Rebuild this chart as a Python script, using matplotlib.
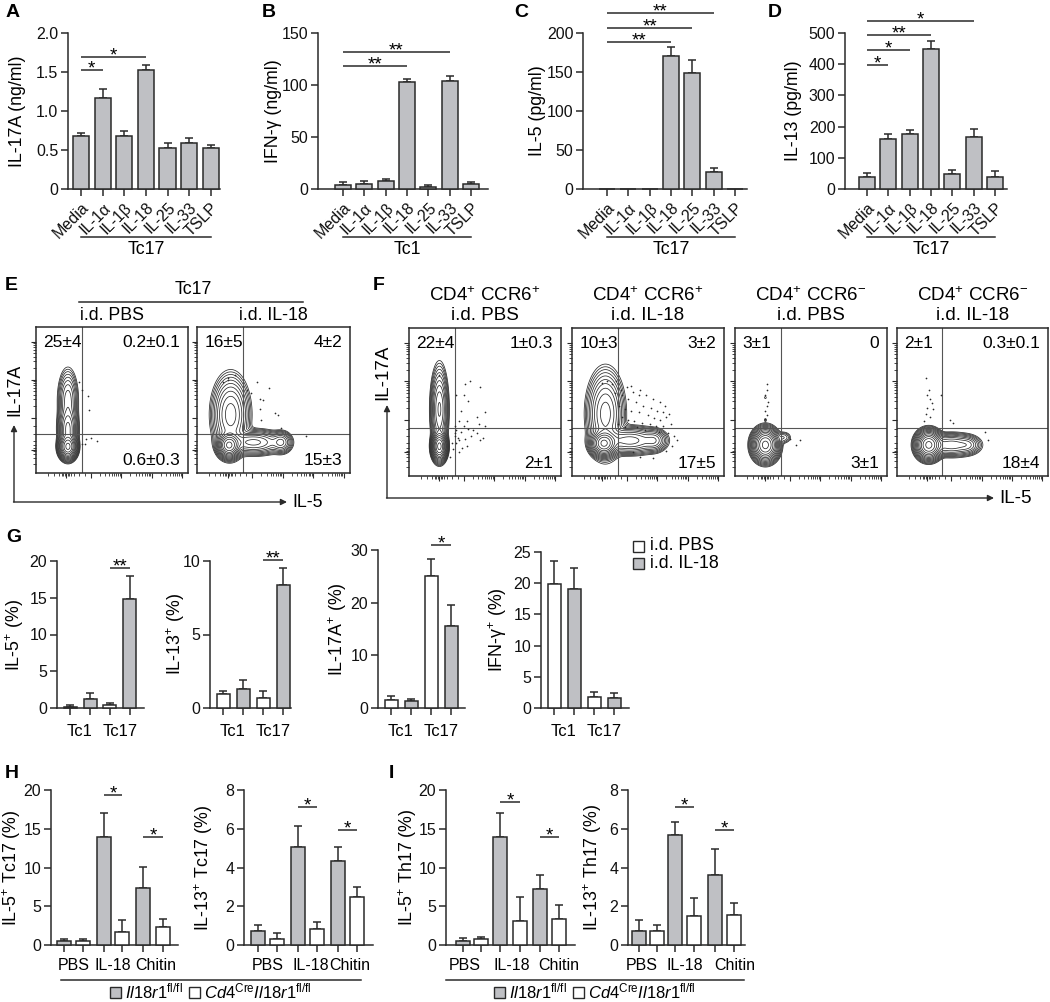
import numpy as np
import matplotlib
matplotlib.use('Agg')
import matplotlib.pyplot as plt
from matplotlib.transforms import blended_transform_factory
from matplotlib.patches import Rectangle
from matplotlib import font_manager

_names = {f.name for f in font_manager.fontManager.ttflist}
NARROW = 'Liberation Sans Narrow' if 'Liberation Sans Narrow' in _names else 'Liberation Sans'

plt.rcParams['font.family'] = ['Liberation Sans', 'DejaVu Sans']
plt.rcParams['mathtext.fontset'] = 'custom'
plt.rcParams['mathtext.rm'] = 'Liberation Sans'
plt.rcParams['mathtext.it'] = 'Liberation Sans:italic'
plt.rcParams['mathtext.bf'] = 'Liberation Sans:bold'
plt.rcParams['mathtext.default'] = 'regular'

# ======================= DATA =======================
cytokines = ['Media', 'IL-1α', 'IL-1β', 'IL-18', 'IL-25', 'IL-33', 'TSLP']
A_il17a = [0.68, 1.17, 0.68, 1.52, 0.52, 0.59, 0.53]
A_il17a_err = [0.04, 0.11, 0.07, 0.07, 0.07, 0.06, 0.04]
A_sig = [(0, 1, 1.52, '*'), (0, 3, 1.69, '*')]
B_ifng = [4.0, 5.0, 7.5, 103.0, 1.5, 104.0, 5.0]
B_ifng_err = [3.0, 2.5, 2.0, 3.0, 2.0, 5.0, 2.0]
B_sig = [(0, 3, 118, '**'), (0, 5, 132, '**')]
C_il5 = [0, 0, 0, 170, 149, 22, 0]
C_il5_err = [0, 0, 0, 12, 17, 5, 0]
C_sig = [(0, 3, 188, '**'), (0, 4, 206, '**'), (0, 5, 226, '**')]
D_il13 = [40, 160, 176, 448, 48, 167, 40]
D_il13_err = [12, 17, 13, 25, 14, 24, 17]
D_sig = [(0, 1, 396, '*'), (0, 2, 444, '*'), (0, 3, 492, '**'), (0, 5, 540, '*')]

E_titles = ['i.d. PBS', 'i.d. IL-18']
E_quads = [('25±4', '0.2±0.1', '0.6±0.3'), ('16±5', '4±2', '15±3')]
F_titles = [('CD4$^{+}$ CCR6$^{+}$', 'i.d. PBS'), ('CD4$^{+}$ CCR6$^{+}$', 'i.d. IL-18'),
            ('CD4$^{+}$ CCR6$^{-}$', 'i.d. PBS'), ('CD4$^{+}$ CCR6$^{-}$', 'i.d. IL-18')]
F_quads = [('22±4', '1±0.3', '2±1'), ('10±3', '3±2', '17±5'),
           ('3±1', '0', '3±1'), ('2±1', '0.3±0.1', '18±4')]

# population blobs (x, y, sx, sy, weight) in plot-fraction units
E_pbs_blobs = [(0.21, 0.18, 0.024, 0.035, 1.0), (0.21, 0.30, 0.026, 0.07, 0.30),
               (0.21, 0.50, 0.028, 0.09, 0.10)]
E_il18_blobs = [(0.21, 0.19, 0.030, 0.035, 1.0), (0.22, 0.40, 0.050, 0.11, 0.22),
                (0.37, 0.21, 0.085, 0.035, 0.20), (0.55, 0.21, 0.030, 0.032, 0.12)]
F1_blobs = [(0.20, 0.20, 0.020, 0.040, 1.0), (0.20, 0.45, 0.024, 0.12, 0.18)]
F2_blobs = [(0.21, 0.22, 0.035, 0.035, 1.0), (0.22, 0.42, 0.050, 0.12, 0.22),
            (0.38, 0.24, 0.090, 0.038, 0.22), (0.54, 0.24, 0.035, 0.033, 0.09)]
F3_blobs = [(0.20, 0.21, 0.035, 0.045, 1.0), (0.32, 0.26, 0.025, 0.020, 0.02),
            (0.20, 0.38, 0.006, 0.008, 0.006), (0.20, 0.53, 0.006, 0.008, 0.006)]
F4_blobs = [(0.21, 0.21, 0.035, 0.040, 1.0), (0.36, 0.21, 0.075, 0.033, 0.15),
            (0.47, 0.21, 0.035, 0.028, 0.05)]

E_pbs_dots = [(0.30, 0.57), (0.34, 0.53), (0.35, 0.43), (0.33, 0.23), (0.36, 0.24),
              (0.40, 0.22), (0.32, 0.20), (0.30, 0.20), (0.28, 0.62)]
E_il18_dots = [(0.17, 0.62), (0.20, 0.65), (0.25, 0.67), (0.20, 0.64), (0.39, 0.62),
               (0.33, 0.57), (0.35, 0.55), (0.41, 0.51), (0.43, 0.50), (0.47, 0.58),
               (0.41, 0.44), (0.53, 0.40), (0.51, 0.41), (0.55, 0.31), (0.42, 0.36),
               (0.71, 0.25)]
F1_dots = [(0.37, 0.62), (0.40, 0.64), (0.47, 0.60), (0.36, 0.55), (0.39, 0.51), (0.31, 0.55),
           (0.34, 0.44), (0.33, 0.37), (0.38, 0.37), (0.45, 0.40), (0.50, 0.43), (0.50, 0.34),
           (0.30, 0.29), (0.34, 0.30), (0.37, 0.25), (0.41, 0.27), (0.45, 0.29), (0.47, 0.24),
           (0.49, 0.26), (0.31, 0.22), (0.35, 0.19), (0.38, 0.20), (0.29, 0.18), (0.33, 0.24),
           (0.42, 0.31), (0.39, 0.32), (0.36, 0.34), (0.30, 0.34), (0.46, 0.35), (0.30, 0.27),
           (0.32, 0.26), (0.28, 0.22), (0.31, 0.31), (0.27, 0.13), (0.33, 0.16), (0.20, 0.68)]
F2_dots = [(0.20, 0.63), (0.23, 0.64), (0.26, 0.62), (0.29, 0.64), (0.36, 0.60), (0.40, 0.57),
           (0.45, 0.58), (0.49, 0.55), (0.33, 0.55), (0.37, 0.52), (0.42, 0.50), (0.47, 0.47),
           (0.52, 0.46), (0.56, 0.44), (0.60, 0.43), (0.64, 0.42), (0.31, 0.47), (0.35, 0.45),
           (0.39, 0.44), (0.44, 0.43), (0.50, 0.41), (0.54, 0.39), (0.58, 0.38), (0.62, 0.40),
           (0.33, 0.40), (0.37, 0.38), (0.41, 0.37), (0.46, 0.36), (0.51, 0.35), (0.55, 0.34),
           (0.60, 0.34), (0.65, 0.35), (0.30, 0.35), (0.35, 0.33), (0.43, 0.33), (0.48, 0.31),
           (0.57, 0.30), (0.63, 0.29), (0.67, 0.27), (0.69, 0.24), (0.66, 0.20), (0.62, 0.17),
           (0.45, 0.13), (0.40, 0.16), (0.53, 0.12), (0.28, 0.56), (0.32, 0.58), (0.39, 0.61),
           (0.44, 0.55), (0.53, 0.52), (0.58, 0.50), (0.61, 0.47)]
F3_dots = [(0.21, 0.62), (0.21, 0.58), (0.20, 0.55), (0.22, 0.50), (0.21, 0.47), (0.20, 0.44),
           (0.21, 0.41), (0.36, 0.25), (0.43, 0.24), (0.40, 0.21)]
F4_dots = [(0.19, 0.66), (0.21, 0.58), (0.20, 0.55), (0.22, 0.52), (0.23, 0.49), (0.20, 0.46),
           (0.24, 0.45), (0.19, 0.42), (0.22, 0.40), (0.29, 0.55), (0.35, 0.38), (0.37, 0.36),
           (0.58, 0.30), (0.60, 0.24), (0.18, 0.37)]

G_groups = ['Tc1', 'Tc17']
G_treat = ['i.d. PBS', 'i.d. IL-18']
G_il5 = [0.18, 1.20, 0.46, 14.8]
G_il5_err = [0.22, 0.86, 0.18, 3.1]
G_il13 = [0.92, 1.31, 0.67, 8.37]
G_il13_err = [0.27, 0.62, 0.48, 1.15]
G_il17a = [1.45, 1.30, 25.1, 15.6]
G_il17a_err = [0.82, 0.32, 3.2, 4.0]
G_ifng = [19.9, 19.1, 1.83, 1.61]
G_ifng_err = [3.6, 3.3, 0.75, 0.76]
G_il5_sig = [(2, 3, 19.0, '**')]
G_il13_sig = [(2, 3, 10.1, '**')]
G_il17a_sig = [(2, 3, 31.0, '*')]

HI_treat = ['PBS', 'IL-18', 'Chitin']
H_il5 = [0.52, 0.48, 13.9, 1.70, 7.30, 2.30]
H_il5_err = [0.31, 0.35, 3.1, 1.55, 2.75, 1.10]
H_il13 = [0.72, 0.33, 5.05, 0.85, 4.31, 2.48]
H_il13_err = [0.30, 0.30, 1.10, 0.36, 0.77, 0.50]
I_il5 = [0.50, 0.74, 13.9, 3.05, 7.25, 3.35]
I_il5_err = [0.45, 0.30, 3.1, 3.15, 1.75, 1.75]
I_il13 = [0.72, 0.72, 5.70, 1.52, 3.62, 1.57]
I_il13_err = [0.55, 0.31, 0.65, 0.91, 1.32, 0.60]
H_il5_sig = [(2, 3, 19.4, '*'), (4, 5, 13.9, '*')]
H_il13_sig = [(2, 3, 7.1, '*'), (4, 5, 5.95, '*')]
I_il5_sig = [(2, 3, 18.5, '*'), (4, 5, 13.9, '*')]
I_il13_sig = [(2, 3, 7.1, '*'), (4, 5, 5.95, '*')]
genotypes = [r'$\mathit{Il18r1}^{\mathrm{fl/fl}}$',
             r'$\mathit{Cd4}^{\mathrm{Cre}}\mathit{Il18r1}^{\mathrm{fl/fl}}$']

# ======================= STYLE / LAYOUT =======================
W, H = 1050, 1002
INK = '#2a2a2a'
GREY = '#bfc0c4'
FS_TICK = 11.5
FS_LAB = 12.8
FS_CAT = 12
fig = plt.figure(figsize=(W / 100, H / 100), dpi=100, facecolor='white')
ov = fig.add_axes([0, 0, 1, 1], zorder=10)
ov.set_xlim(0, W)
ov.set_ylim(H, 0)
ov.axis('off')


def px_axes(x0, y0, x1, y1):
    a = fig.add_axes([x0 / W, 1 - y1 / H, (x1 - x0) / W, (y1 - y0) / H])
    a.patch.set_alpha(0)
    return a


def bt(ax):
    return blended_transform_factory(ax.transData, ov.transData)


def bar_panel(x0, ytop, x1, ybot, xlim, ymax, yticks, ylabs, pos, means, errs, colors,
              width, sigs, ylabel, ylab_x):
    ax = px_axes(x0, ytop, x1, ybot)
    ax.set_xlim(*xlim)
    ax.set_ylim(0, ymax)
    for s in ['top', 'right']:
        ax.spines[s].set_visible(False)
    for s in ['left', 'bottom']:
        ax.spines[s].set_linewidth(1.1)
        ax.spines[s].set_color(INK)
    ax.tick_params(direction='out', length=5, width=1.1, color=INK, labelsize=FS_TICK,
                   pad=2, labelcolor='#111')
    ax.set_yticks(yticks)
    ax.set_yticklabels(ylabs)
    ax.set_xticks(pos)
    ax.set_xticklabels([])
    bars = ax.bar(pos, means, width=width, color=colors, edgecolor=INK, linewidth=1.1,
                  zorder=3)
    for b in bars:
        b.set_clip_on(False)
    keep = [k for k in range(len(pos)) if errs[k] > 0]
    ax.errorbar([pos[k] for k in keep], [means[k] for k in keep],
                yerr=[[0] * len(keep), [errs[k] for k in keep]], fmt='none', ecolor=INK,
                elinewidth=1.1, capsize=3.2, capthick=1.1, zorder=2, clip_on=False)
    for i, j, y, lab in sigs:
        ax.plot([pos[i], pos[j]], [y, y], color=INK, lw=1.1, clip_on=False,
                solid_capstyle='butt')
        ax.annotate(lab, ((pos[i] + pos[j]) / 2, y), xytext=(0, -2.5),
                    textcoords='offset points', ha='center', va='baseline', fontsize=13.5,
                    annotation_clip=False)
    yc = (ytop + ybot) / 2
    ov.text(ylab_x, yc, ylabel, rotation=90, ha='center', va='center', fontsize=FS_LAB)
    return ax


# ---------------- Row 1: A-D ----------------
pos7 = list(range(7))
row1 = [
    (68, 220, (-0.6, 6.42), 2.0, [0, 0.5, 1.0, 1.5, 2.0], ['0', '0.5', '1.0', '1.5', '2.0'],
     A_il17a, A_il17a_err, A_sig, 'IL-17A (ng/ml)', 18, 'Tc17', 'A', 6),
    (318, 488, (-1.17, 6.8), 150, [0, 50, 100, 150], ['0', '50', '100', '150'],
     B_ifng, B_ifng_err, B_sig, 'IFN-γ (ng/ml)', 274, 'Tc1', 'B', 262),
    (583, 747, (-1.13, 6.56), 200, [0, 50, 100, 150, 200], ['0', '50', '100', '150', '200'],
     C_il5, C_il5_err, C_sig, 'IL-5 (pg/ml)', 537, 'Tc17', 'C', 514),
    (845, 1007, (-1.03, 6.56), 500, [0, 100, 200, 300, 400, 500],
     ['0', '100', '200', '300', '400', '500'],
     D_il13, D_il13_err, D_sig, 'IL-13 (pg/ml)', 793, 'Tc17', 'D', 768),
]
for (x0, x1, xl, ymax, yt, yl, m, e, sg, ylab, ylx, grp, letter, lx) in row1:
    ax = bar_panel(x0, 33, x1, 189, xl, ymax, yt, yl, pos7, m, e, [GREY] * 7, 0.75, sg,
                   ylab, ylx)
    ax.set_xticklabels(cytokines, rotation=45, ha='right', va='top',
                       rotation_mode='anchor', fontsize=FS_TICK)
    ax.tick_params(axis='x', pad=3)
    tr = bt(ax)
    ov.plot([0, 6], [237, 237], color=INK, lw=1.1, transform=tr)
    ov.text(3, 249, grp, transform=tr, ha='center', va='center', fontsize=FS_LAB)
    ov.text(lx, 12, letter, ha='left', va='center', fontsize=14, fontweight='bold')

# ---------------- Row 2: E, F flow plots ----------------
gx = np.linspace(0, 1, 360)
GX, GY = np.meshgrid(gx, gx)

FX_MAJ = [0.20, 0.36, 0.56, 0.76, 0.96]
FY_MAJ = [0.16, 0.38, 0.64, 0.90]
FX_MIN = [0.08, 0.12, 0.15, 0.17, 0.18, 0.19, 0.21, 0.22, 0.23, 0.25, 0.28, 0.32] + \
    [d + 0.2 * np.log10(k) for d in (0.36, 0.56, 0.76) for k in range(2, 10)]
FY_MIN = [0.06, 0.10, 0.13, 0.15, 0.17, 0.19, 0.22, 0.27, 0.32] + \
    [d + 0.26 * np.log10(k) for d in (0.38, 0.64) for k in range(2, 10)]


def flow_panel(x0, y0, x1, y1, blobs, dots, gate_x, gate_y, quads, fs, family):
    ax = px_axes(x0, y0, x1, y1)
    ax.set_xlim(0, 1)
    ax.set_ylim(0, 1)
    for s in ax.spines.values():
        s.set_linewidth(1.1)
        s.set_color(INK)
    Z = np.zeros_like(GX)
    for cx, cy, sx, sy, w in blobs:
        Z += w * np.exp(-0.5 * (((GX - cx) / sx) ** 2 + ((GY - cy) / sy) ** 2))
    lv = Z.max() * np.geomspace(0.004, 0.85, 14)
    ax.contour(GX, GY, Z, levels=lv, colors=INK, linewidths=0.55)
    d = np.array(dots)
    ax.scatter(d[:, 0], d[:, 1], s=1.5, c=INK, linewidths=0, zorder=3)
    ax.axvline(gate_x, color='#555555', lw=0.8)
    ax.axhline(gate_y, color='#555555', lw=0.8)
    ax.set_xticks(FX_MAJ)
    ax.set_xticks(FX_MIN, minor=True)
    ax.set_yticks(FY_MAJ)
    ax.set_yticks(FY_MIN, minor=True)
    ax.set_xticklabels([])
    ax.set_yticklabels([])
    ax.tick_params(which='major', direction='out', length=3.5, width=0.8, color=INK)
    ax.tick_params(which='minor', direction='out', length=2, width=0.6, color=INK)
    kw = dict(transform=ax.transAxes, fontsize=fs, family=family, va='center')
    ax.text(0.05, 0.895, quads[0], ha='left', **kw)
    ax.text(0.95, 0.895, quads[1], ha='right', **kw)
    ax.text(0.95, 0.085, quads[2], ha='right', **kw)
    return ax


arrow_kw = dict(arrowstyle='-|>', lw=1.0, color=INK, mutation_scale=9, shrinkA=0, shrinkB=0)

# E
E_boxes = [(36, 188), (197, 350)]
E_blobs = [E_pbs_blobs, E_il18_blobs]
E_dots = [E_pbs_dots, E_il18_dots]
for k, (a, b) in enumerate(E_boxes):
    flow_panel(a, 327, b, 473, E_blobs[k], E_dots[k], 0.30, 0.27, E_quads[k], 12.5,
               'Liberation Sans')
    ov.text((a + b) / 2, 315, E_titles[k], ha='center', va='center', fontsize=FS_LAB)
ov.plot([79, 303], [302, 302], color=INK, lw=1.1)
ov.text(193, 290, 'Tc17', ha='center', va='center', fontsize=FS_LAB)
ov.text(5, 286, 'E', ha='left', va='center', fontsize=14, fontweight='bold')
ov.annotate('', xy=(14, 425), xytext=(14, 502), arrowprops=arrow_kw)
ov.annotate('', xy=(287, 502), xytext=(13.5, 502), arrowprops=arrow_kw)
ov.text(15, 390, 'IL-17A', rotation=90, ha='center', va='center', fontsize=FS_LAB)
ov.text(292, 502, 'IL-5', ha='left', va='center', fontsize=FS_LAB)

# F
F_boxes = [(409, 561), (572, 724), (735, 887), (897, 1048)]
F_blobs = [F1_blobs, F2_blobs, F3_blobs, F4_blobs]
F_dots = [F1_dots, F2_dots, F3_dots, F4_dots]
for k, (a, b) in enumerate(F_boxes):
    flow_panel(a, 328, b, 476, F_blobs[k], F_dots[k], 0.30, 0.325, F_quads[k], 12.5, NARROW)
    ov.text((a + b) / 2, 296, F_titles[k][0], ha='center', va='center', fontsize=13.5,
            family=NARROW)
    ov.text((a + b) / 2, 316, F_titles[k][1], ha='center', va='center', fontsize=13.5,
            family=NARROW)
ov.text(373, 286, 'F', ha='left', va='center', fontsize=14, fontweight='bold')
ov.annotate('', xy=(387, 405), xytext=(387, 498), arrowprops=arrow_kw)
ov.annotate('', xy=(994, 498), xytext=(386.5, 498), arrowprops=arrow_kw)
ov.text(383, 372, 'IL-17A', rotation=90, ha='center', va='center', fontsize=13.5,
        family=NARROW)
ov.text(999, 498, 'IL-5', ha='left', va='center', fontsize=13.5, family=NARROW)

# ---------------- Row 3: G ----------------
pos4 = [0, 1, 2, 3]
gcols = ['white', GREY, 'white', GREY]
rowG = [
    (57, 144, 561, 20, [0, 5, 10, 15, 20], G_il5, G_il5_err, G_il5_sig, 'IL-5$^{+}$ (%)', 15),
    (210, 291, 561, 10, [0, 5, 10], G_il13, G_il13_err, G_il13_sig, 'IL-13$^{+}$ (%)', 176),
    (378, 465, 550, 30, [0, 10, 20, 30], G_il17a, G_il17a_err, G_il17a_sig,
     'IL-17A$^{+}$ (%)', 338),
    (541, 629, 552, 25, [0, 5, 10, 15, 20, 25], G_ifng, G_ifng_err, [], 'IFN-γ$^{+}$ (%)', 498),
]
for (x0, x1, ytop, ymax, yt, m, e, sg, ylab, ylx) in rowG:
    first = x0 + 13
    unit = 20.0
    xl = ((x0 - first) / unit, (x1 - first) / unit)
    ax = bar_panel(x0, ytop, x1, 708, xl, ymax, yt, [str(v) for v in yt], pos4, m, e, gcols,
                   0.65, sg, ylab, ylx)
    tr = bt(ax)
    ov.text(0.5, 731, G_groups[0], transform=tr, ha='center', va='center', fontsize=FS_CAT)
    ov.text(2.5, 731, G_groups[1], transform=tr, ha='center', va='center', fontsize=FS_CAT)
ov.text(6, 538, 'G', ha='left', va='center', fontsize=14, fontweight='bold')
for k, (col, lab) in enumerate(zip(['white', GREY], G_treat)):
    yc = 546 + 17 * k
    ov.add_patch(Rectangle((633, yc - 5.5), 11, 11, facecolor=col, edgecolor=INK, lw=1.0))
    ov.text(650, yc, lab, ha='left', va='center', fontsize=FS_LAB)

# ---------------- Row 4: H, I ----------------
hcols = [GREY, 'white', GREY, 'white', GREY, 'white']
# bar centres and category-label centres in pixels (layout only)
HI_bar_px = [
    [64, 83, 104, 122, 143, 163],
    [258, 277, 298, 317, 338, 357],
    [463, 481, 500, 520, 540, 559],
    [639, 657, 675, 694, 715, 734],
]
HI_label_px = [
    [74, 113, 156],
    [268, 311, 350],
    [465, 512, 559],
    [642, 685, 735],
]
rowHI = [
    (51, 178, 20, [0, 5, 10, 15, 20], H_il5, H_il5_err, H_il5_sig, 'IL-5$^{+}$ Tc17 (%)', 12),
    (244, 373, 8, [0, 2, 4, 6, 8], H_il13, H_il13_err, H_il13_sig, 'IL-13$^{+}$ Tc17 (%)', 204),
    (446, 575, 20, [0, 5, 10, 15, 20], I_il5, I_il5_err, I_il5_sig, 'IL-5$^{+}$ Th17 (%)', 408),
    (628, 745, 8, [0, 2, 4, 6, 8], I_il13, I_il13_err, I_il13_sig, 'IL-13$^{+}$ Th17 (%)', 593),
]
for k, (x0, x1, ymax, yt, m, e, sg, ylab, ylx) in enumerate(rowHI):
    bpx = HI_bar_px[k]
    unit = 20.0
    pos = [(p - bpx[0]) / unit for p in bpx]
    xl = ((x0 - bpx[0]) / unit, (x1 - bpx[0]) / unit)
    ax = bar_panel(x0, 790, x1, 945, xl, ymax, yt, [str(v) for v in yt], pos, m, e, hcols,
                   0.68, sg, ylab, ylx)
    for g, lab in enumerate(HI_treat):
        ov.text(HI_label_px[k][g], 966, lab, ha='center', va='center', fontsize=11.5)

ov.text(5, 774, 'H', ha='left', va='center', fontsize=14, fontweight='bold')
ov.text(389, 774, 'I', ha='left', va='center', fontsize=14, fontweight='bold')
ov.plot([61, 361], [980, 980], color=INK, lw=1.1)
ov.plot([446, 744], [980, 980], color=INK, lw=1.1)

renderer = fig.canvas.get_renderer()


def geno_legend(xc, y):
    box, gap, sep = 11, 4, 6
    widths = []
    for lab in genotypes:
        t = ov.text(0, 0, lab, fontsize=12)
        widths.append(t.get_window_extent(renderer).width)
        t.remove()
    total = 2 * (box + gap) + sum(widths) + sep
    x = xc - total / 2
    for col, lab, wdt in zip([GREY, 'white'], genotypes, widths):
        ov.add_patch(Rectangle((x, y - box / 2), box, box, facecolor=col, edgecolor=INK, lw=1.0))
        x += box + gap
        ov.text(x, y + 6, lab, ha='left', va='baseline', fontsize=12)
        x += wdt + sep


geno_legend(211, 992)
geno_legend(595, 992)

fig.savefig('out.png', dpi=100, facecolor='white')
